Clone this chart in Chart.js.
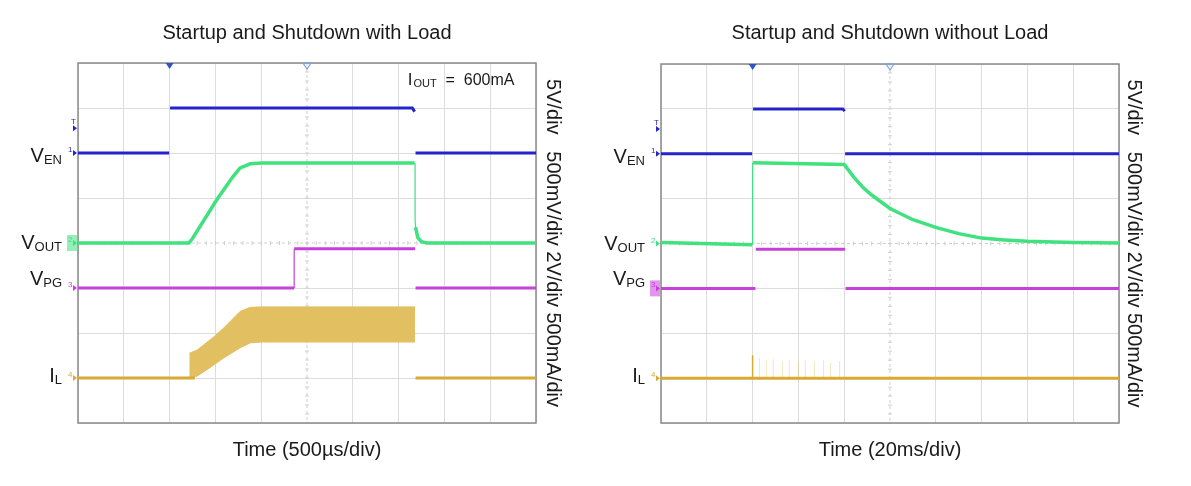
<!DOCTYPE html>
<html>
<head>
<meta charset="utf-8">
<script src="https://cdn.jsdelivr.net/npm/chart.js@4.4.1/dist/chart.umd.min.js"></script>
<style>
  body { margin: 0; background: #fff; width: 1191px; height: 486px; overflow: hidden; position: relative; }
  canvas { position: absolute; top: 0; }
  #withLoad { left: 0; }
  #noLoad { left: 595px; }
</style>
</head>
<body>
<canvas id="withLoad" width="595" height="486"></canvas>
<canvas id="noLoad" width="596" height="486"></canvas>
<script>
// all values are in scope divisions: x -5..5, y -4..4
const titles = ['Startup and Shutdown with Load', 'Startup and Shutdown without Load'];
const timeLabels = ['Time (500µs/div)', 'Time (20ms/div)'];
const scaleText = '5V/div   500mV/div 2V/div 500mA/div';
const channelNames = [['V', 'EN'], ['V', 'OUT'], ['V', 'PG'], ['I', 'L']];
const channelOffsets = [2, 0, -1, -3];
const loadNote = ['I', 'OUT', '  =  600mA'];

// with load
const enLoad = [[-5, 2], [-3.01, 2], [-3, null], [-2.99, 3], [2.3, 3], [2.35, 2.92], [2.36, null], [2.37, 2], [5, 2]];
const voutLoad = [[-5, 0], [-2.58, 0], [-2.5, 0.1], [-1.97, 0.96], [-1.62, 1.47], [-1.46, 1.67], [-1.24, 1.76], [-0.98, 1.78], [2.35, 1.78],
                  [2.36, null], [2.37, 0.35], [2.42, 0.12], [2.5, 0.03], [2.62, 0], [5, 0]];
const voutLoadEdge = [[2.36, 1.78], [2.36, 0.5], [2.38, 0.2]];
const pgLoad = [[-5, -1], [-0.28, -1], [-0.27, null], [-0.28, -0.13], [2.36, -0.13], [2.365, null], [2.37, -1], [5, -1]];
const pgLoadEdge = [[-0.28, -1], [-0.28, -0.13]];
const ilLoad = [[-5, -3], [-2.45, -3], [-2.4, null], [2.37, -3], [5, -3]];
const ilBandX = [-2.57, -2.40, -2.05, -1.83, -1.46, -1.24, -1.0, 2.36];
const ilBandTop = [-2.45, -2.38, -2.10, -1.90, -1.52, -1.43, -1.42, -1.42];
const ilBandBottom = [-2.98, -2.96, -2.72, -2.56, -2.33, -2.22, -2.2, -2.2];

// without load
const enNoLoad = [[-5, 2], [-3.01, 2], [-3, null], [-2.99, 3], [-1.03, 3], [-0.99, 2.95], [-0.985, null], [-0.98, 2], [5, 2]];
const voutNoLoad = [[-5, 0.02], [-3.01, -0.03], [-3, null], [-2.99, 1.8], [-1, 1.76], [-0.8, 1.49], [-0.6, 1.26], [-0.4, 1.08],
                    [-0.2, 0.93], [0, 0.78], [0.5, 0.53], [1, 0.36], [1.5, 0.22], [2, 0.12], [2.5, 0.08], [3, 0.05], [4, 0.02], [5, 0.01]];
const voutNoLoadEdge = [[-3, -0.03], [-3, 1.8]];
const pgNoLoad = [[-5, -1], [-2.94, -1], [-2.935, null], [-2.93, -0.13], [-0.98, -0.13], [-0.975, null], [-0.97, -1], [5, -1]];
const ilNoLoad = [[-5, -3], [5, -3]];
const ilSpike = [[-3, -3], [-3, -2.49]];
const rippleX = [-2.85, -2.7, -2.55, -2.35, -2.2, -2.0, -1.85, -1.65, -1.45, -1.3, -1.1];
const rippleTop = [-2.55, -2.6, -2.58, -2.62, -2.6, -2.65, -2.6, -2.63, -2.6, -2.66, -2.62];

const EN_COLOR = '#2424cc';
const OUT_COLOR = '#3fe27e';
const PG_COLOR = '#c840dc';
const IL_COLOR = '#d8aa34';
const BAND_COLOR = '#e2bf60';
const channelColors = [EN_COLOR, OUT_COLOR, PG_COLOR, IL_COLOR];

Chart.defaults.font.family = '"Liberation Sans", Arial, sans-serif';
Chart.defaults.color = '#1a1a1a';

function toPoints(pairs) {
  return pairs.map(p => ({x: p[0], y: p[1]}));
}

function trace(label, pairs, color, width) {
  return {label, data: toPoints(pairs), borderColor: color, backgroundColor: color,
          borderWidth: width || 3, pointRadius: 0, tension: 0, fill: false, spanGaps: false};
}

function rippleLines() {
  const out = [];
  rippleX.forEach((x, i) => { out.push([x, -3], [x, rippleTop[i]], [x, null]); });
  return out;
}

// scope decorations: frame, dashed centre lines, channel labels, markers
const scopePlugin = {
  id: 'scope',
  beforeDatasetsDraw(chart) {
    const {ctx, chartArea: a, scales: {x, y}} = chart;
    const cx = x.getPixelForValue(0), cy = y.getPixelForValue(0);
    ctx.save();
    ctx.strokeStyle = '#cfcfcf';
    ctx.lineWidth = 1;
    ctx.setLineDash([3, 3]);
    ctx.beginPath();
    ctx.moveTo(cx, a.top); ctx.lineTo(cx, a.bottom);
    ctx.moveTo(a.left, cy); ctx.lineTo(a.right, cy);
    ctx.stroke();
    ctx.setLineDash([]);
    ctx.beginPath();
    for (let v = -5; v <= 5.001; v += 0.2) {
      const px = x.getPixelForValue(v);
      ctx.moveTo(px, cy - 2); ctx.lineTo(px, cy + 2);
    }
    for (let v = -4; v <= 4.001; v += 0.2) {
      const py = y.getPixelForValue(v);
      ctx.moveTo(cx - 2, py); ctx.lineTo(cx + 2, py);
    }
    ctx.stroke();
    ctx.strokeStyle = '#8a8a8a';
    ctx.lineWidth = 1.5;
    ctx.strokeRect(a.left, a.top, a.right - a.left, a.bottom - a.top);
    ctx.restore();
  },
  afterDraw(chart, args, opts) {
    const {ctx, chartArea: a, scales: {x, y}} = chart;
    ctx.save();
    // channel names at the left
    const shifts = [9, 6, -3, 4];
    channelNames.forEach((name, i) => {
      const base = y.getPixelForValue(channelOffsets[i]) + shifts[i];
      ctx.font = '20px "Liberation Sans", Arial, sans-serif';
      const w1 = ctx.measureText(name[0]).width;
      ctx.font = '13px "Liberation Sans", Arial, sans-serif';
      const w2 = ctx.measureText(name[1]).width;
      const right = a.left - 16;
      ctx.fillStyle = '#1a1a1a';
      ctx.textBaseline = 'alphabetic';
      ctx.textAlign = 'left';
      ctx.font = '20px "Liberation Sans", Arial, sans-serif';
      ctx.fillText(name[0], right - w1 - w2, base);
      ctx.font = '13px "Liberation Sans", Arial, sans-serif';
      ctx.fillText(name[1], right - w2, base + 2);
      // ground marker
      const gy = y.getPixelForValue(channelOffsets[i]);
      if (i === opts.active) {
        ctx.fillStyle = channelColors[i];
        ctx.globalAlpha = 0.55;
        ctx.fillRect(a.left - 11, gy - 8, 10, 16);
        ctx.globalAlpha = 1;
      }
      ctx.fillStyle = channelColors[i];
      ctx.beginPath();
      ctx.moveTo(a.left - 1, gy);
      ctx.lineTo(a.left - 5, gy - 3);
      ctx.lineTo(a.left - 5, gy + 3);
      ctx.fill();
      ctx.font = '8px "Liberation Sans", Arial, sans-serif';
      ctx.fillText(String(i + 1), a.left - 10, gy - 1);
    });
    // trigger level marker
    const ty = y.getPixelForValue(2.55);
    ctx.fillStyle = EN_COLOR;
    ctx.font = '8px "Liberation Sans", Arial, sans-serif';
    ctx.fillText('T', a.left - 7, ty - 4);
    ctx.beginPath();
    ctx.moveTo(a.left - 1, ty); ctx.lineTo(a.left - 5, ty - 3); ctx.lineTo(a.left - 5, ty + 3);
    ctx.fill();
    // trigger time markers at the top
    const tx = x.getPixelForValue(-3);
    ctx.fillStyle = '#2b56c4';
    ctx.beginPath();
    ctx.moveTo(tx - 4, a.top); ctx.lineTo(tx + 4, a.top); ctx.lineTo(tx, a.top + 6);
    ctx.fill();
    const mx = x.getPixelForValue(0);
    ctx.strokeStyle = '#7ea4de';
    ctx.lineWidth = 1.2;
    ctx.beginPath();
    ctx.moveTo(mx - 4, a.top); ctx.lineTo(mx + 4, a.top); ctx.lineTo(mx, a.top + 6); ctx.closePath();
    ctx.stroke();
    // load note
    if (opts.note) {
      const nx = x.getPixelForValue(2.2), ny = y.getPixelForValue(3.51);
      ctx.fillStyle = '#1a1a1a';
      ctx.font = '17px "Liberation Sans", Arial, sans-serif';
      ctx.fillText(loadNote[0], nx, ny);
      let px = nx + ctx.measureText(loadNote[0]).width + 1;
      ctx.font = '11px "Liberation Sans", Arial, sans-serif';
      ctx.fillText(loadNote[1], px, ny + 2);
      px += ctx.measureText(loadNote[1]).width;
      ctx.font = '16px "Liberation Sans", Arial, sans-serif';
      ctx.fillText(loadNote[2], px, ny);
    }
    ctx.restore();
  }
};

function gridColor(c) {
  return c.tick && c.tick.value === 0 ? 'rgba(0,0,0,0)' : '#dcdcdc';
}

function makeScope(id, idx, datasets, pad, titleGap, yTitlePad, note, active) {
  const ctx = document.getElementById(id).getContext('2d');
  return new Chart(ctx, {
    type: 'line',
    data: {datasets},
    plugins: [scopePlugin],
    options: {
      responsive: false,
      animation: false,
      layout: {padding: pad},
      plugins: {
        legend: {display: false},
        tooltip: {enabled: false},
        title: {display: true, text: titles[idx], fullSize: false, color: '#1a1a1a',
                font: {size: 20, weight: 'normal'}, padding: {top: 21, bottom: titleGap}},
        scope: {note, active}
      },
      scales: {
        x: {type: 'linear', min: -5, max: 5,
            ticks: {stepSize: 1, display: false},
            grid: {color: gridColor, drawTicks: false},
            border: {display: false},
            title: {display: true, text: timeLabels[idx], color: '#1a1a1a', font: {size: 20}, padding: {top: 15, bottom: 0}}},
        y: {type: 'linear', position: 'right', min: -4, max: 4,
            ticks: {stepSize: 1, display: false},
            grid: {color: gridColor, drawTicks: false},
            border: {display: false},
            title: {display: true, text: scaleText, color: '#1a1a1a', font: {size: 20}, padding: {top: 0, bottom: yTitlePad}}}
      }
    }
  });
}

function bandSets() {
  const top = trace('IL top', ilBandX.map((x, i) => [x, ilBandTop[i]]), BAND_COLOR, 1);
  top.fill = '+1';
  top.backgroundColor = BAND_COLOR;
  const bottom = trace('IL bottom', ilBandX.map((x, i) => [x, ilBandBottom[i]]), BAND_COLOR, 1);
  return [top, bottom];
}

makeScope('withLoad', 0, [
  trace('VEN', enLoad, EN_COLOR, 3),
  trace('VOUT', voutLoad, OUT_COLOR, 3.5),
  trace('VOUT edge', voutLoadEdge, OUT_COLOR, 1.2),
  trace('VPG', pgLoad, PG_COLOR, 3),
  trace('VPG edge', pgLoadEdge, PG_COLOR, 1.2),
  trace('IL', ilLoad, IL_COLOR, 3),
  ...bandSets()
], {left: 78, right: 30, top: 0, bottom: 24}, 18, 5, true, 1);

makeScope('noLoad', 1, [
  trace('VEN', enNoLoad, EN_COLOR, 3),
  trace('VOUT', voutNoLoad, OUT_COLOR, 3.5),
  trace('VOUT edge', voutNoLoadEdge, OUT_COLOR, 1.2),
  trace('VPG', pgNoLoad, PG_COLOR, 3),
  trace('IL', ilNoLoad, IL_COLOR, 3),
  trace('IL spike', ilSpike, IL_COLOR, 1.5),
  trace('IL ripple', rippleLines(), 'rgba(222,190,100,0.4)', 1)
], {left: 66, right: 45, top: 0, bottom: 24}, 19, 3, false, 2);
</script>
</body>
</html>
